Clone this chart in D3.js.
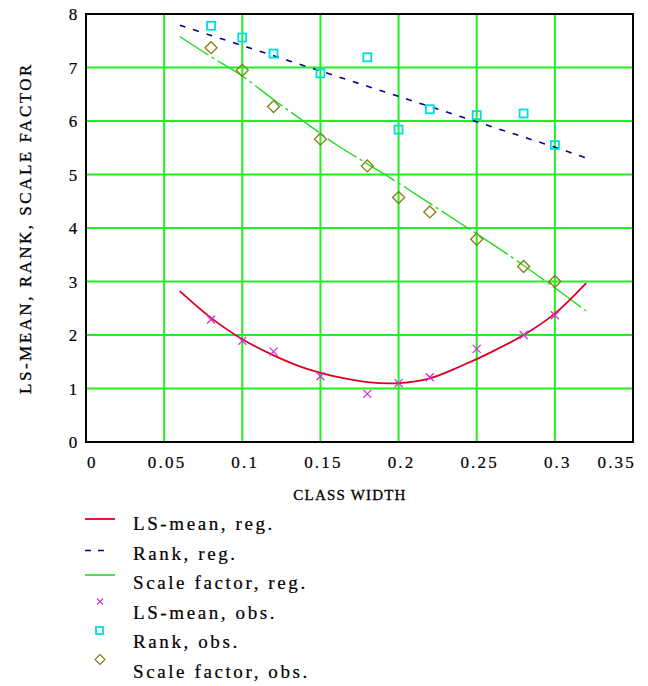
<!DOCTYPE html>
<html>
<head>
<meta charset="utf-8">
<script src="https://cdn.jsdelivr.net/npm/d3@7"></script>
<style>
  body { margin: 0; background: #fff; }
  svg { display: block; }
</style>
</head>
<body>
<svg id="chart" width="648" height="686"></svg>
<script>
// observed class widths
const obsX = [0.08, 0.10, 0.12, 0.15, 0.18, 0.20, 0.22, 0.25, 0.28, 0.30];
const lsMeanObs = [2.29, 1.89, 1.69, 1.23, 0.90, 1.10, 1.21, 1.74, 2.00, 2.37];
const rankObs = [7.78, 7.56, 7.26, 6.89, 7.19, 5.84, 6.22, 6.11, 6.14, 5.55];
const scaleObs = [7.37, 6.95, 6.27, 5.66, 5.16, 4.57, 4.30, 3.79, 3.28, 3.00];

// regression curves
const regX = [0.06, 0.08, 0.10, 0.12, 0.14, 0.16, 0.18, 0.20, 0.22, 0.24, 0.26, 0.28, 0.30, 0.32];
const lsMeanReg = [2.82, 2.32, 1.92, 1.62, 1.38, 1.22, 1.12, 1.10, 1.19, 1.42, 1.69, 2.00, 2.40, 2.97];
const rankReg = [7.79, 7.60, 7.41, 7.22, 7.03, 6.84, 6.65, 6.46, 6.27, 6.08, 5.89, 5.70, 5.51, 5.31];
const scaleReg = [7.58, 7.20, 6.84, 6.40, 5.98, 5.56, 5.20, 4.84, 4.46, 4.08, 3.70, 3.30, 2.88, 2.45];

const xTicks = [0, 0.05, 0.1, 0.15, 0.2, 0.25, 0.3, 0.35];
const yTicks = [0, 1, 2, 3, 4, 5, 6, 7, 8];

const svg = d3.select("#chart");
const margin = { left: 86, top: 14, right: 648 - 633, bottom: 686 - 442 };
const width = 648 - margin.left - margin.right;
const height = 686 - margin.top - margin.bottom;

const x = d3.scaleLinear().domain([0, 0.35]).range([margin.left, margin.left + width]);
const y = d3.scaleLinear().domain([0, 8]).range([margin.top + height, margin.top]);

const gridGreen = "#22ee22";
const serif = "'Liberation Serif', 'DejaVu Serif', serif";

// grid
svg.append("g")
  .selectAll("line")
  .data(xTicks.slice(1, -1))
  .join("line")
  .attr("x1", d => x(d)).attr("x2", d => x(d))
  .attr("y1", y(8)).attr("y2", y(0))
  .attr("stroke", gridGreen).attr("stroke-width", 2);

svg.append("g")
  .selectAll("line")
  .data(yTicks.slice(1, -1))
  .join("line")
  .attr("x1", x(0)).attr("x2", x(0.35))
  .attr("y1", d => y(d)).attr("y2", d => y(d))
  .attr("stroke", gridGreen).attr("stroke-width", 2);

// frame
svg.append("rect")
  .attr("x", x(0)).attr("y", y(8))
  .attr("width", width).attr("height", height)
  .attr("fill", "none").attr("stroke", "#000").attr("stroke-width", 2);

// tick labels (first and last kept inside the frame, like the original)
const lastTick = xTicks.length - 1;
svg.append("g")
  .selectAll("text")
  .data(xTicks)
  .join("text")
  .attr("x", (d, i) => i === 0 ? x(d) + 1 : i === lastTick ? x(d) + 3 : x(d) + 3)
  .attr("y", 468)
  .attr("text-anchor", (d, i) => i === 0 ? "start" : i === lastTick ? "end" : "middle")
  .attr("font-family", serif)
  .attr("font-size", 17)
  .attr("letter-spacing", 2.2)
  .attr("stroke", "#000").attr("stroke-width", 0.2)
  .text(d => d);

svg.append("g")
  .selectAll("text")
  .data(yTicks)
  .join("text")
  .attr("x", 73)
  .attr("y", d => y(d) + 6)
  .attr("text-anchor", "middle")
  .attr("font-family", serif)
  .attr("font-size", 17)
  .attr("stroke", "#000").attr("stroke-width", 0.2)
  .text(d => d);

// axis titles
svg.append("text")
  .attr("x", 350)
  .attr("y", 500)
  .attr("text-anchor", "middle")
  .attr("font-family", serif)
  .attr("font-size", 15)
  .attr("letter-spacing", 1.2)
  .attr("stroke", "#000").attr("stroke-width", 0.3)
  .text("CLASS WIDTH");

svg.append("text")
  .attr("transform", `translate(31, 228) rotate(-90)`)
  .attr("text-anchor", "middle")
  .attr("font-family", serif)
  .attr("font-size", 17)
  .attr("letter-spacing", 2.5)
  .attr("stroke", "#000").attr("stroke-width", 0.3)
  .text("LS-MEAN, RANK, SCALE FACTOR");

// regression lines
const line = d3.line()
  .x(d => x(d[0]))
  .y(d => y(d[1]))
  .curve(d3.curveCatmullRom);

svg.append("path")
  .datum(regX.map((v, i) => [v, scaleReg[i]]))
  .attr("d", line)
  .attr("fill", "none")
  .attr("stroke", "#22dd22")
  .attr("stroke-width", 1.4)
  .attr("stroke-dasharray", "34,4,3,4");

svg.append("path")
  .datum(regX.map((v, i) => [v, rankReg[i]]))
  .attr("d", line)
  .attr("fill", "none")
  .attr("stroke", "#000090")
  .attr("stroke-width", 1.6)
  .attr("stroke-dasharray", "6,8");

svg.append("path")
  .datum(regX.map((v, i) => [v, lsMeanReg[i]]))
  .attr("d", line)
  .attr("fill", "none")
  .attr("stroke", "#dd0022")
  .attr("stroke-width", 1.8);

// markers
function drawSquare(g, cx, cy) {
  g.append("rect")
    .attr("x", cx - 4).attr("y", cy - 4)
    .attr("width", 8).attr("height", 8)
    .attr("fill", "none").attr("stroke", "#00dddd").attr("stroke-width", 1.8);
}
function drawDiamond(g, cx, cy) {
  g.append("path")
    .attr("d", `M${cx},${cy - 6}L${cx + 6},${cy}L${cx},${cy + 6}L${cx - 6},${cy}Z`)
    .attr("fill", "none").attr("stroke", "#8a7a10").attr("stroke-width", 1.3);
}
function drawCross(g, cx, cy) {
  g.append("path")
    .attr("d", `M${cx - 4},${cy - 4}L${cx + 4},${cy + 4}M${cx - 4},${cy + 4}L${cx + 4},${cy - 4}`)
    .attr("fill", "none").attr("stroke", "#d030d0").attr("stroke-width", 1.3);
}

const marks = svg.append("g");
obsX.forEach((v, i) => {
  drawDiamond(marks, x(v), y(scaleObs[i]));
  drawSquare(marks, x(v), y(rankObs[i]));
  drawCross(marks, x(v), y(lsMeanObs[i]));
});

// legend
const legendNames = ["LS-mean, reg.", "Rank, reg.", "Scale factor, reg.", "LS-mean, obs.", "Rank, obs.", "Scale factor, obs."];
const legend = svg.append("g");
const rowY = i => 524 + i * 29.5;

legendNames.forEach((name, i) => {
  const cy = rowY(i);
  if (i === 0) {
    legend.append("line").attr("x1", 85).attr("x2", 115).attr("y1", cy - 5).attr("y2", cy - 5)
      .attr("stroke", "#dd0022").attr("stroke-width", 1.8);
  } else if (i === 1) {
    legend.append("line").attr("x1", 85).attr("x2", 111).attr("y1", cy - 3).attr("y2", cy - 3)
      .attr("stroke", "#000090").attr("stroke-width", 1.6).attr("stroke-dasharray", "6,7");
  } else if (i === 2) {
    legend.append("line").attr("x1", 85).attr("x2", 115).attr("y1", cy - 8).attr("y2", cy - 8)
      .attr("stroke", "#22dd22").attr("stroke-width", 1.6);
  } else if (i === 3) {
    legend.append("path")
      .attr("d", `M97,${cy - 14}L103,${cy - 8}M97,${cy - 8}L103,${cy - 14}`)
      .attr("stroke", "#d030d0").attr("stroke-width", 1.1);
  } else if (i === 4) {
    legend.append("rect").attr("x", 96).attr("y", cy - 15).attr("width", 7).attr("height", 7)
      .attr("fill", "none").attr("stroke", "#00dddd").attr("stroke-width", 1.8);
  } else {
    legend.append("path")
      .attr("d", `M100,${cy - 17}L105,${cy - 12}L100,${cy - 7}L95,${cy - 12}Z`)
      .attr("fill", "none").attr("stroke", "#8a7a10").attr("stroke-width", 1.2);
  }
  legend.append("text")
    .attr("x", 133)
    .attr("y", cy + 6)
    .attr("font-family", serif)
    .attr("font-size", 19)
    .attr("letter-spacing", 2.6)
    .attr("stroke", "#000").attr("stroke-width", 0.2)
    .text(name);
});
</script>
</body>
</html>
